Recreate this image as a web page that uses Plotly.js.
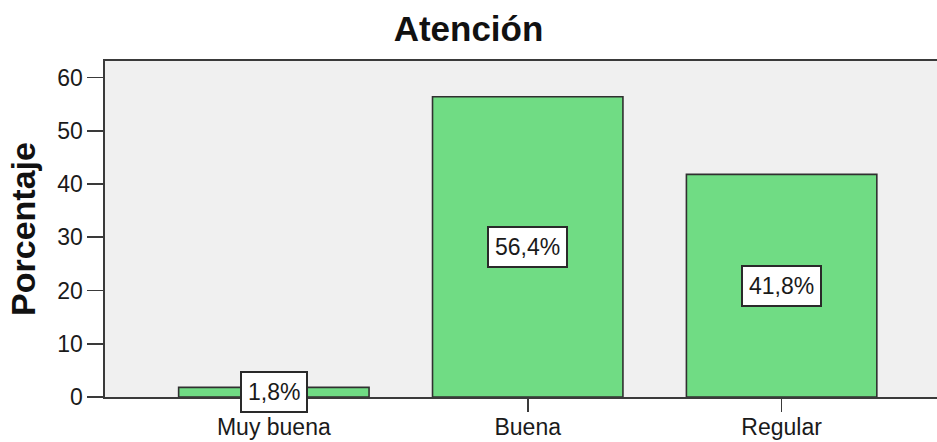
<!DOCTYPE html>
<html>
<head>
<meta charset="utf-8">
<script src="https://cdn.plot.ly/plotly-3.0.1.min.js"></script>
<style>html,body{margin:0;padding:0;background:#fff;}#chart{width:937px;height:442px;}</style>
</head>
<body>
<div id="chart"></div>
<script>
const categories = ["Muy buena", "Buena", "Regular"];
const percentages = [1.8, 56.4, 41.8];
const chartTitle = "Atención";
const yTitle = "Porcentaje";
const yTickVals = [0, 10, 20, 30, 40, 50, 60];

const FONT = "Liberation Sans, Arial, sans-serif";

const trace = {
  type: "bar",
  x: categories,
  y: percentages,
  width: 0.75,
  marker: {color: "#70dc84", line: {color: "#303030", width: 1.6}},
  hoverinfo: "skip"
};

const annotations = categories.map((c, i) => ({
  x: c, y: percentages[i] / 2, xref: "x", yref: "y",
  text: percentages[i].toFixed(1).replace(".", ",") + "%",
  showarrow: false,
  font: {family: FONT, size: 23, color: "#1a1a1a"},
  bgcolor: "#ffffff",
  bordercolor: "#2a2a2a",
  borderwidth: 2,
  borderpad: 6
}));

const layout = {
  width: 937, height: 442,
  margin: {l: 105, r: 0, t: 61, b: 45},
  paper_bgcolor: "#ffffff",
  plot_bgcolor: "#f0f0f0",
  showlegend: false,
  font: {family: FONT, color: "#1a1a1a"},
  title: {text: chartTitle, font: {family: FONT, size: 35, color: "#111", weight: "bold"}, x: 0.5, xref: "container", y: 0.935, yanchor: "middle"},
  xaxis: {
    type: "category",
    range: [-0.665, 2.612],
    showline: true, linecolor: "#3a3a3a", linewidth: 1.6, mirror: true,
    ticks: "outside", ticklen: 13, tickwidth: 1.6, tickcolor: "#3a3a3a",
    ticklabelstandoff: -4,
    tickfont: {family: FONT, size: 23, color: "#1a1a1a"},
    showgrid: false, zeroline: false, fixedrange: true
  },
  yaxis: {
    range: [0, 63.1],
    tickvals: yTickVals,
    showline: true, linecolor: "#3a3a3a", linewidth: 1.6,
    ticks: "outside", ticklen: 16, tickwidth: 1.6, tickcolor: "#3a3a3a",
    ticklabelstandoff: 0,
    tickfont: {family: FONT, size: 23, color: "#1a1a1a"},
    showgrid: false, zeroline: false, fixedrange: true,
    title: {text: yTitle, font: {family: FONT, size: 34, color: "#111", weight: "bold"}, standoff: 11}
  },
  annotations: annotations,
  bargap: 0.25
};

Plotly.newPlot("chart", [trace], layout, {displayModeBar: false, staticPlot: true});
</script>
</body>
</html>
